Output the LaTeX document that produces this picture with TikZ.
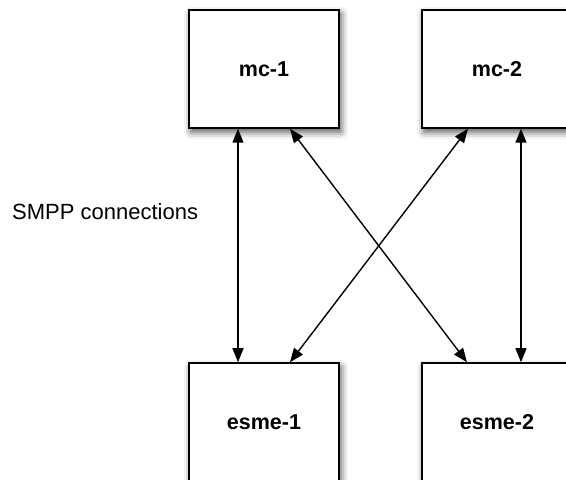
\documentclass[tikz,border=0pt]{standalone}
\usepackage{fontspec}
\setmainfont{Liberation Sans}
\usetikzlibrary{arrows.meta,shadows.blur}
\begin{document}
\begin{tikzpicture}[x=1pt,y=1pt,
  box/.style={draw=black, line width=1.5pt, fill=white, minimum width=150pt, minimum height=118pt,
    inner sep=0pt, font=\fontsize{21.5}{25}\selectfont\bfseries,
    blur shadow={shadow xshift=2pt, shadow yshift=-4pt, shadow blur radius=7pt, shadow opacity=70}},
  link/.style={line width=1.4pt, {Triangle[length=14pt,width=11pt]}-{Triangle[length=14pt,width=11pt]}}]
\useasboundingbox (0,0) rectangle (566,480);
\node[box] (mc1) at (264,411) {mc-1};
\node[box] (mc2) at (497,411) {mc-2};
\node[box] (esme1) at (264,58) {esme-1};
\node[box] (esme2) at (497,58) {esme-2};
\node[anchor=west, font=\fontsize{22}{26}\selectfont, inner sep=0pt] (lbl) at (12,268) {SMPP connections};
\draw[link] ([xshift=-26pt]mc1.south) -- ([xshift=-26pt]esme1.north);
\draw[link] ([xshift=26pt]mc1.south) -- ([xshift=-30pt]esme2.north);
\draw[link] ([xshift=-29pt]mc2.south) -- ([xshift=26pt]esme1.north);
\draw[link] ([xshift=24pt]mc2.south) -- ([xshift=24pt]esme2.north);
\end{tikzpicture}
\end{document}
